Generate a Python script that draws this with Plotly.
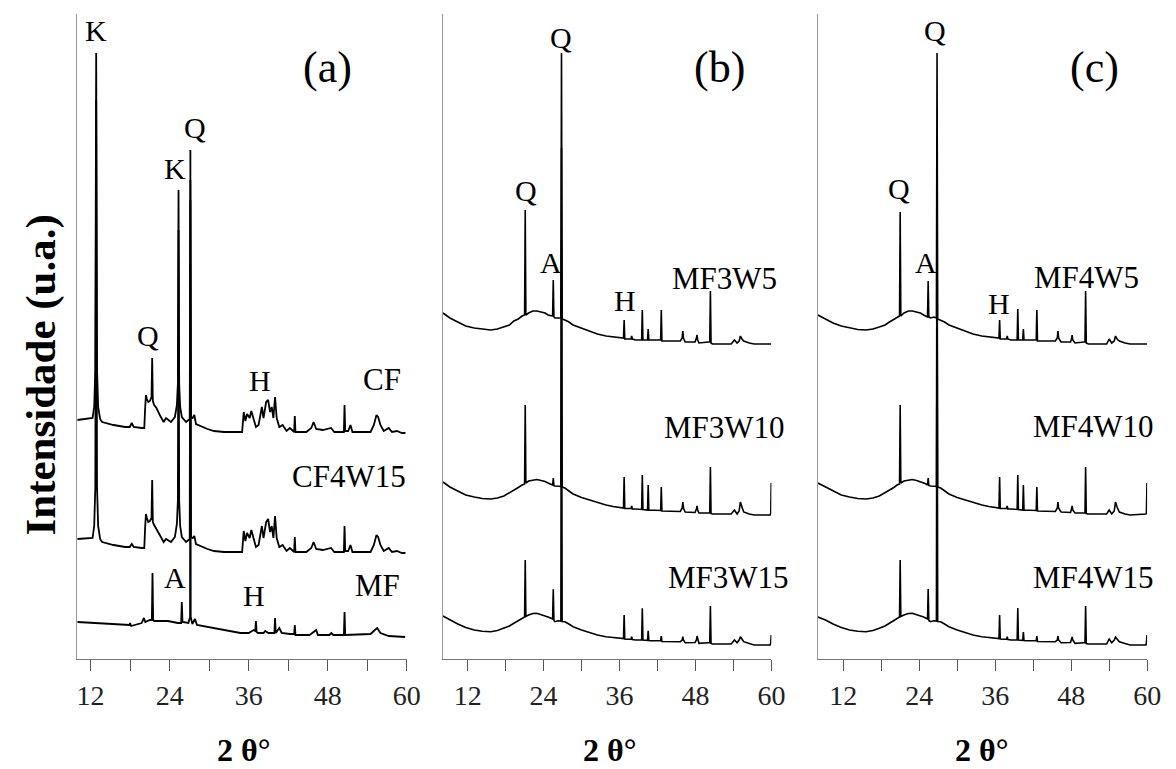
import plotly.graph_objects as go

# ---------------- Panel (a): raw clays / reference ----------------
cf_2t = [10.0, 12.3, 12.55, 12.72, 12.85, 12.98, 13.15, 13.45, 13.75, 15.5, 17.25, 17.95, 18.25, 18.55,
         19.75, 20.15, 20.28, 20.4, 20.55, 20.75, 21.0, 21.25, 21.35, 21.45, 21.65, 22.0, 22.5, 23.1,
         23.45, 24.2, 24.8, 25.1, 25.25, 25.35, 25.45, 25.6, 25.85, 26.5, 27.05, 27.15, 27.25, 27.5,
         27.75, 28.0, 29.75, 30.75, 32.25, 35.0, 35.25, 35.5, 35.75, 36.15, 36.4, 36.75, 37.1, 37.5,
         38.0, 38.25, 38.65, 38.95, 39.25, 39.5, 39.75, 40.0, 40.25, 40.65, 41.15, 41.75, 42.25, 42.9,
         43.0, 43.1, 44.75, 45.5, 45.85, 46.25, 47.25, 48.5, 49.0, 50.45, 50.55, 50.65, 51.1, 51.45,
         51.75, 54.5, 55.0, 55.4, 55.65, 56.0, 56.5, 57.25, 57.75, 58.5, 59.25, 59.8]
cf_int = [13, 15, 26, 64, 380, 64, 26, 14, 11, 8, 6, 6, 10, 6,
          5, 5, 24, 38, 34, 31, 32, 36, 75, 32, 28, 25, 18, 11,
          15, 11, 16, 28, 49, 243, 49, 26, 16, 11, 14, 233, 16, 15,
          18, 9, 4, 2, 1, 1, 21, 12, 19, 15, 22, 13, 6, 8,
          26, 15, 31, 33, 21, 26, 15, 36, 15, 6, 8, 2, 5, 1,
          17, 1, 1, 5, 11, 4, 3, 5, 1, 1, 28, 2, 2, 8,
          1, 1, 8, 18, 16, 8, 2, 5, 1, 2, 0, 0]

cf4w15_2t = cf_2t
cf4w15_int = [14, 15, 27, 66, 453, 66, 27, 14, 11, 8, 6, 6, 9, 6,
              5, 5, 25, 39, 35, 31, 32, 35, 73, 31, 28, 24, 17, 11,
              14, 11, 16, 29, 52, 323, 52, 27, 16, 11, 14, 373, 16, 15,
              17, 9, 4, 2, 1, 1, 22, 12, 20, 15, 23, 13, 6, 8,
              27, 15, 31, 34, 21, 27, 15, 37, 15, 6, 8, 2, 5, 1,
              16, 1, 1, 5, 11, 4, 3, 5, 1, 1, 27, 2, 2, 8,
              1, 1, 8, 18, 16, 8, 2, 5, 1, 2, 0, 0]

mf_2t = [10.0, 12.5, 14.75, 17.25, 17.9, 18.0, 18.15, 19.75, 20.1, 20.3, 21.0, 21.3, 21.4, 21.5,
         21.65, 22.25, 23.75, 25.25, 25.75, 25.85, 25.95, 26.85, 27.1, 27.15, 27.2, 27.45, 27.85,
         28.15, 29.75, 31.75, 34.75, 36.0, 36.75, 37.0, 37.1, 37.2, 37.4, 38.25, 38.5, 39.0, 39.9,
         40.0, 40.1, 40.65, 41.0, 42.25, 42.9, 43.0, 43.1, 45.25, 46.25, 46.5, 48.25, 48.55, 48.85,
         50.45, 50.55, 50.65, 54.5, 55.15, 55.5, 56.0, 57.25, 59.75]
mf_int = [15, 14, 13, 12, 12, 14, 11, 14, 19, 15, 17, 17, 64, 17,
          16, 16, 16, 14, 14, 35, 15, 14, 20, 487, 20, 13, 18,
          12, 10, 7, 4, 4, 7, 6, 16, 5, 4, 4, 6, 4, 4,
          19, 4, 9, 4, 3, 3, 12, 2, 2, 7, 2, 2, 4, 2,
          2, 25, 2, 3, 7, 9, 4, 1, 0]

# ---------------- Panel (b): MF3 series ----------------
b_2t = [8.1, 9.2, 10.44, 11.7, 13.05, 14.3, 15.65, 16.7, 17.73, 18.6, 19.3, 20.0, 20.6, 21.0, 21.1, 21.2,
        21.63, 22.3, 22.93, 23.6, 24.24, 24.7, 25.17, 25.43, 25.53, 25.63, 25.8, 26.3, 26.73, 26.83,
        26.93, 27.36, 28.0, 28.66, 30.0, 31.26, 32.5, 33.86, 35.0, 36.2, 36.63, 36.73, 36.83, 37.25,
        37.82, 37.92, 38.02, 38.55, 39.5, 39.6, 39.7, 40.43, 40.53, 40.63, 40.9, 42.5, 42.6, 42.7,
        45.6, 45.9, 46.0, 46.1, 46.37, 47.93, 48.15, 48.25, 48.35, 48.55, 50.02, 50.26, 50.36, 50.46,
        50.67, 53.64, 54.16, 54.58, 54.9, 55.1, 55.35, 55.62, 56.5, 57.28, 59.8, 59.9, 59.97]
mf3w5_int = [31, 26, 22, 18, 16, 15, 14, 15, 17, 19, 23, 25, 28, 29, 134, 29,
             31, 33, 33, 32, 31, 29, 28, 28, 64, 27, 26, 26, 26, 291,
             25, 24, 22, 19, 16, 13, 10, 8, 7, 6, 6, 24, 5, 5,
             5, 8, 5, 4, 4, 34, 4, 4, 15, 4, 4, 4, 34, 3,
             3, 6, 13, 6, 2, 2, 6, 9, 4, 1, 2, 2, 53, 1,
             0, 0, 4, 1, 3, 8, 5, 3, 1, 0, 0, 0, 0]
mf3w10_int = [33, 28, 24, 20, 18, 16.5, 16, 17, 19, 22, 25, 27.5, 30, 31, 110, 32,
              34, 35, 35.5, 34.5, 33.5, 32, 31, 30, 37, 29.5, 29, 29, 28.5, 367,
              28, 27, 24, 21, 17.5, 15, 12, 10, 8.5, 7.5, 7, 38, 6.5, 6.5,
              6.5, 9, 6, 6, 5.5, 40, 5.5, 5, 30, 5, 5, 4.5, 28, 4,
              3.5, 7, 13, 7, 3, 2.5, 6, 9, 5, 2, 2, 2, 48, 1.5,
              1, 1, 5, 1, 4, 13, 8, 3, 1, 0, 0, 2, 32]
mf3w15_int = [29, 25, 21, 17.5, 15, 13.7, 13.3, 14.5, 16.7, 19, 21.7, 24.5, 26.7, 28, 85, 28.5,
              30, 31.5, 31.7, 30.5, 29, 28, 26.7, 26, 55.7, 24.5, 23.3, 24.3, 24, 405,
              23.5, 23.3, 21, 18.3, 15, 12.3, 10, 8.3, 7.3, 6.7, 6.5, 30, 6, 5.7,
              5.7, 8.3, 5.5, 5, 5, 36.7, 5, 4.7, 14.3, 4.5, 4.3, 4.3, 9, 3.5,
              3.3, 5, 8.3, 5, 2.3, 2.5, 5, 9, 5, 1.7, 2.3, 2.3, 39, 1.5,
              1, 1, 5, 2.3, 5, 8.3, 6, 3.3, 1.5, 0, 0, 2, 10]

# ---------------- Panel (c): MF4 series ----------------
c_2t = [8.0, 9.2, 10.4, 11.7, 13.0, 14.3, 15.6, 16.7, 17.7, 18.6, 19.3, 20.0, 20.5, 20.9, 21.0, 21.1,
        21.6, 22.3, 22.9, 23.6, 24.2, 24.7, 25.1, 25.32, 25.42, 25.52, 25.8, 26.3, 26.72, 26.82,
        26.92, 27.4, 28.0, 28.7, 30.0, 31.3, 32.5, 33.9, 35.0, 36.2, 36.6, 36.7, 36.8, 37.3,
        37.8, 37.9, 38.0, 38.5, 39.47, 39.57, 39.67, 40.35, 40.45, 40.55, 40.9, 42.48, 42.58, 42.68,
        45.5, 45.81, 45.91, 46.01, 46.4, 47.9, 48.05, 48.15, 48.25, 48.6, 50.0, 50.18, 50.28, 50.38,
        50.7, 53.6, 54.0, 54.4, 54.8, 55.0, 55.25, 55.6, 56.5, 57.3, 59.8, 59.88, 59.97]
mf4w5_int = [29, 25, 21, 18, 16, 14.5, 14, 15, 17, 19, 22, 25, 27, 28, 132, 28,
             31, 33, 33, 32, 31, 29, 28, 27, 63, 27, 26, 27, 26, 291,
             25, 24, 22, 19, 16, 13, 10, 8, 7, 6, 6, 24, 5, 5,
             5, 8, 5, 4, 4, 35, 4, 4, 15, 4, 4, 4, 34, 3,
             3, 6, 13, 6, 2, 2, 5, 9, 4, 1, 2, 2, 53, 1,
             0, 0, 5, 1, 3, 8, 5, 3, 1, 0, 0, 0, 0]
mf4w10_int = [32, 28, 24, 20, 18, 16.5, 16, 17, 19, 22, 25, 27.5, 30, 31, 110, 32,
              34, 35, 35.5, 34.5, 33.5, 32, 31, 30, 37, 29.5, 29, 29, 28.5, 332,
              28, 27, 24, 21, 17.5, 15, 12, 10, 8.5, 7.5, 7, 38, 6.5, 6.5,
              6.5, 9, 6, 6, 5.5, 40, 5.5, 5, 30, 5, 5, 4.5, 28, 4,
              3.5, 7, 13, 7, 3, 2.5, 6, 9, 5, 2, 2, 2, 48, 1.5,
              1, 1, 5, 1, 4, 13, 8, 3, 1, 0, 1, 2, 32]
mf4w15_int = [28, 25, 21, 17.5, 15, 13.7, 13.3, 14.5, 16.7, 19, 21.7, 24.5, 26.7, 28, 85, 28.5,
              30, 31.5, 31.7, 30.5, 29, 28, 26.7, 26, 56, 24.5, 23.3, 24.3, 24, 405,
              23.5, 23.3, 21, 18.3, 15, 12.3, 10, 8.3, 7.3, 6.7, 6.5, 30, 6, 5.7,
              5.7, 8.3, 5.5, 5, 5, 37, 5, 4.7, 13, 4.5, 4.3, 4.3, 9, 3.5,
              3.3, 5, 9, 5, 2.3, 2.5, 5, 8, 5, 1.7, 2.3, 2.3, 39, 1.5,
              1, 1, 6, 2.3, 5, 8, 6, 3.3, 1.5, 0, 0, 2, 10]

tick_vals = [12, 18, 24, 30, 36, 42, 48, 54, 60]
tick_text = ["12", "", "24", "", "36", "", "48", "", "60"]

# vertical stacking offsets of each diffractogram (a.u.)
patterns = [
    ("x", "y", cf_2t, cf_int, 226, 1.8),
    ("x", "y", cf4w15_2t, cf4w15_int, 106, 1.8),
    ("x", "y", mf_2t, mf_int, 22, 1.8),
    ("x2", "y2", b_2t, mf3w5_int, 315, 1.6),
    ("x2", "y2", b_2t, mf3w10_int, 144, 1.6),
    ("x2", "y2", b_2t, mf3w15_int, 14, 1.6),
    ("x3", "y3", c_2t, mf4w5_int, 315, 1.6),
    ("x3", "y3", c_2t, mf4w10_int, 144, 1.6),
    ("x3", "y3", c_2t, mf4w15_int, 14, 1.6),
]

fig = go.Figure()
for xa, ya, tt, inten, off, lw in patterns:
    fig.add_trace(go.Scatter(x=tt, y=[v + off for v in inten], xaxis=xa, yaxis=ya,
                             mode="lines", line=dict(color="black", width=lw),
                             showlegend=False, hoverinfo="skip"))

W, H = 1176, 769
SERIF = "Liberation Serif"
ydom = [110 / H, 755 / H]

def xaxis_cfg(left_px, right_px, lo):
    return dict(domain=[left_px / W, right_px / W], range=[lo, 60], tickvals=tick_vals,
                ticktext=tick_text, ticks="outside", ticklen=11, tickwidth=1.3, tickcolor="#555",
                showline=True, linecolor="#777", linewidth=1.3, showgrid=False, zeroline=False,
                tickfont=dict(family=SERIF, size=28, color="#222"), fixedrange=True)

def yaxis_cfg(anchor):
    return dict(domain=ydom, range=[0, 645], showticklabels=False, ticks="", showgrid=False,
                zeroline=False, showline=True, linecolor="#999", linewidth=1.3, anchor=anchor)

layout = dict(width=W, height=H, margin=dict(l=0, r=0, t=0, b=0),
              paper_bgcolor="white", plot_bgcolor="white")
layout["xaxis"] = xaxis_cfg(78, 411.7, 9.95) | dict(anchor="y")
layout["xaxis2"] = xaxis_cfg(448.3, 780.7, 8.1) | dict(anchor="y2")
layout["xaxis3"] = xaxis_cfg(827.7, 1161, 8.0) | dict(anchor="y3")
layout["yaxis"] = yaxis_cfg("x")
layout["yaxis2"] = yaxis_cfg("x2")
layout["yaxis3"] = yaxis_cfg("x3")
fig.update_layout(**layout)

ann = []
def lab(text, x, y, panel, size=30):
    sfx = "" if panel == 1 else str(panel)
    ann.append(dict(text=text, x=x, y=y, xref="x" + sfx, yref="y" + sfx, showarrow=False,
                    font=dict(family=SERIF, size=size, color="black"),
                    xanchor="center", yanchor="middle"))

# panel (a)
lab("K", 12.8, 629, 1)
lab("Q", 27.8, 532, 1)
lab("K", 24.8, 491, 1)
lab("Q", 20.75, 324, 1)
lab("H", 37.7, 279, 1)
lab("CF", 56.3, 280, 1, size=31)
lab("CF4W15", 51.2, 183, 1, size=31)
lab("A", 24.8, 82, 1)
lab("H", 36.8, 64, 1)
lab("MF", 55.6, 74, 1, size=31)
lab("(a)", 48.0, 592, 1, size=44)
# panel (b)
lab("Q", 26.79, 622, 2)
lab("(b)", 51.75, 592, 2, size=44)
lab("Q", 21.15, 469, 2)
lab("A", 25.23, 397, 2)
lab("MF3W5", 52.55, 381, 2, size=31)
lab("H", 36.94, 359, 2)
lab("MF3W10", 52.55, 232, 2, size=31)
lab("MF3W15", 53.2, 82, 2, size=31)
# panel (c)
lab("Q", 26.57, 629, 3)
lab("(c)", 51.74, 592, 3, size=44)
lab("Q", 20.85, 471, 3)
lab("A", 25.0, 397, 3)
lab("MF4W5", 50.49, 382, 3, size=31)
lab("H", 36.56, 356, 3)
lab("MF4W10", 51.53, 233, 3, size=31)
lab("MF4W15", 51.53, 82, 3, size=31)

# axis titles
for cx in (247, 617, 994):
    ann.append(dict(text="<b>2 θ°</b>", x=cx / W, y=1 - 750 / H, xref="paper", yref="paper",
                    showarrow=False, font=dict(family=SERIF, size=32, color="black"),
                    xanchor="center", yanchor="middle"))
ann.append(dict(text="<b>Intensidade (u.a.)</b>", x=41 / W, y=1 - 375 / H, xref="paper",
                yref="paper", showarrow=False, textangle=-90,
                font=dict(family=SERIF, size=43, color="black"),
                xanchor="center", yanchor="middle"))
fig.update_layout(annotations=ann)

fig.write_html("out.html")
